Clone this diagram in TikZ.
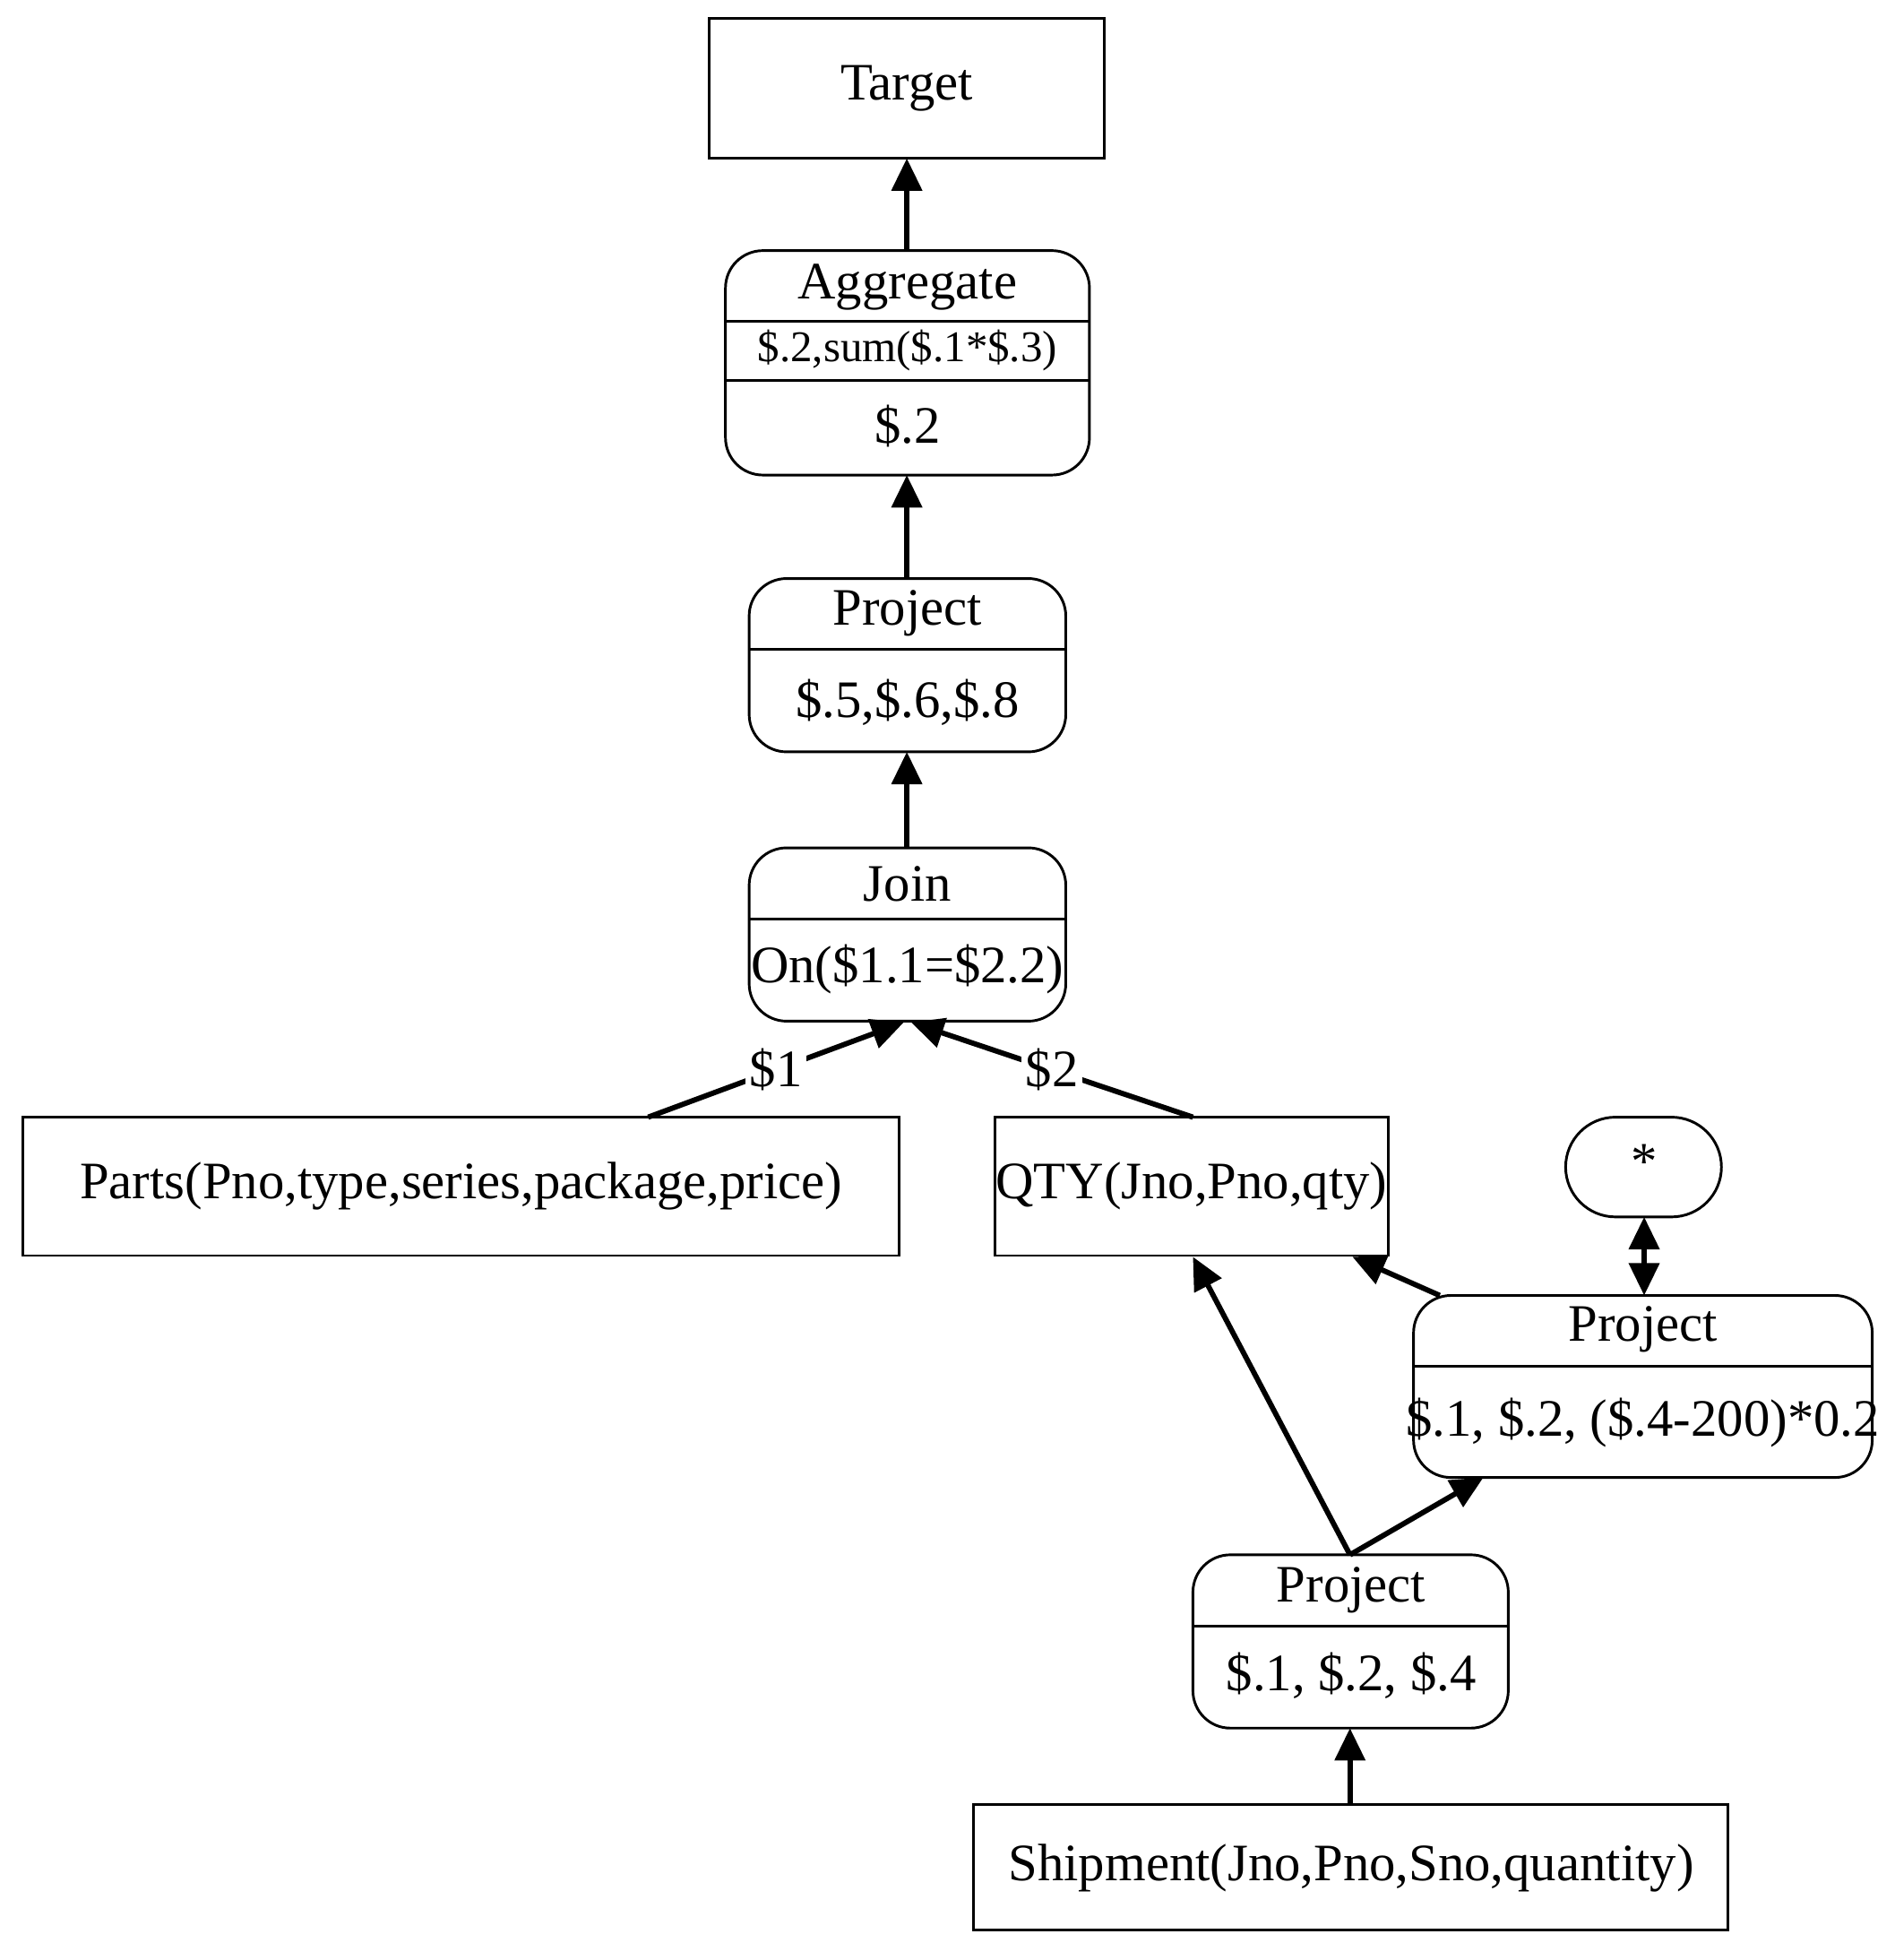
\documentclass[tikz,border=0pt]{standalone}
\usepackage{fontspec}
\setmainfont{Liberation Serif}
\usetikzlibrary{arrows.meta}
\begin{document}
\begin{tikzpicture}[x=0.01cm,y=-0.01cm,
  font=\fontsize{12}{14}\selectfont,
  box/.style={draw,line width=0.6pt,inner sep=0pt},
  rbox/.style={box,rounded corners=0.3cm},
  arr/.style={line width=1.2pt,-{Triangle[length=0.26cm,width=0.24cm]}},
  darr/.style={line width=1.2pt,{Triangle[length=0.26cm,width=0.24cm]}-{Triangle[length=0.26cm,width=0.24cm]}},
  lbl/.style={inner sep=1pt}]
\useasboundingbox (0,0) rectangle (1520,1572);
% boxes
\draw[box] (569,15) rectangle (886,127);
\node (tgt) at (727.5,71) {Target};
\coordinate (tgtb) at (727.5,127);

\draw[rbox] (582,201) rectangle (874,381);
\draw[line width=0.6pt] (582,258) -- (874,258) (582,305) -- (874,305);
\node (agg) at (728,230) {Aggregate};
\node[font=\fontsize{10}{12}\selectfont] at (728,281) {\$.2,sum(\$.1*\$.3)};
\node at (728,342) {\$.2};
\coordinate (aggt) at (727.5,201);
\coordinate (aggb) at (727.5,381);

\draw[rbox] (601,464) rectangle (855,603);
\draw[line width=0.6pt] (601,521) -- (855,521);
\node at (728,492) {Project};
\node at (728,563) {\$.5,\$.6,\$.8};
\coordinate (p1t) at (727.5,464);
\coordinate (p1b) at (727.5,603);

\draw[rbox] (601,680) rectangle (855,819);
\draw[line width=0.6pt] (601,737) -- (855,737);
\node at (728,709) {Join};
\node at (728,777) {On(\$1.1=\$2.2)};
\coordinate (jt) at (727.5,680);
\coordinate (jl) at (725,820);
\coordinate (jr) at (731,820);

\draw[box] (18,896) rectangle (721,1007);
\node at (370,951) {Parts(Pno,type,series,package,price)};
\coordinate (parts) at (520,896);

\draw[box] (798,896) rectangle (1114,1007);
\node at (956,951) {QTY(Jno,Pno,qty)};
\coordinate (qtyt) at (957,896);
\coordinate (qtyb1) at (957,1008);
\coordinate (qtyb2) at (1085,1008);

\draw[rbox,rounded corners=0.4cm] (1256,896) rectangle (1381,976);
\node at (1319,932) {*};
\coordinate (star) at (1319,976);

\draw[rbox] (1134,1039) rectangle (1502,1185);
\draw[line width=0.6pt] (1134,1096) -- (1502,1096);
\node at (1318,1066) {Project};
\node at (1318,1141) {\$.1, \$.2, (\$.4-200)*0.2};
\coordinate (prt) at (1319,1039);
\coordinate (prl) at (1155,1039);
\coordinate (prb) at (1190,1185);

\draw[rbox] (957,1247) rectangle (1210,1386);
\draw[line width=0.6pt] (957,1304) -- (1210,1304);
\node at (1084,1275) {Project};
\node at (1084,1344) {\$.1, \$.2, \$.4};
\coordinate (pbt) at (1083,1247);
\coordinate (pbb) at (1083,1386);

\draw[box] (781,1447) rectangle (1386,1548);
\node at (1084,1498) {Shipment(Jno,Pno,Sno,quantity)};
\coordinate (shp) at (1083,1447);

% connectors
\draw[arr] (aggt) -- (tgtb);
\draw[arr] (p1t) -- (aggb);
\draw[arr] (jt) -- (p1b);
\draw[arr] (parts) -- node[lbl,fill=white,pos=0.5] {\$1} (jl);
\draw[arr] (qtyt) -- node[lbl,fill=white,pos=0.5] {\$2} (jr);
\draw[arr] (prl) -- (qtyb2);
\draw[arr] (pbt) -- (qtyb1);
\draw[arr] (pbt) -- (prb);
\draw[darr] (star) -- (prt);
\draw[arr] (shp) -- (pbb);
\end{tikzpicture}
\end{document}
